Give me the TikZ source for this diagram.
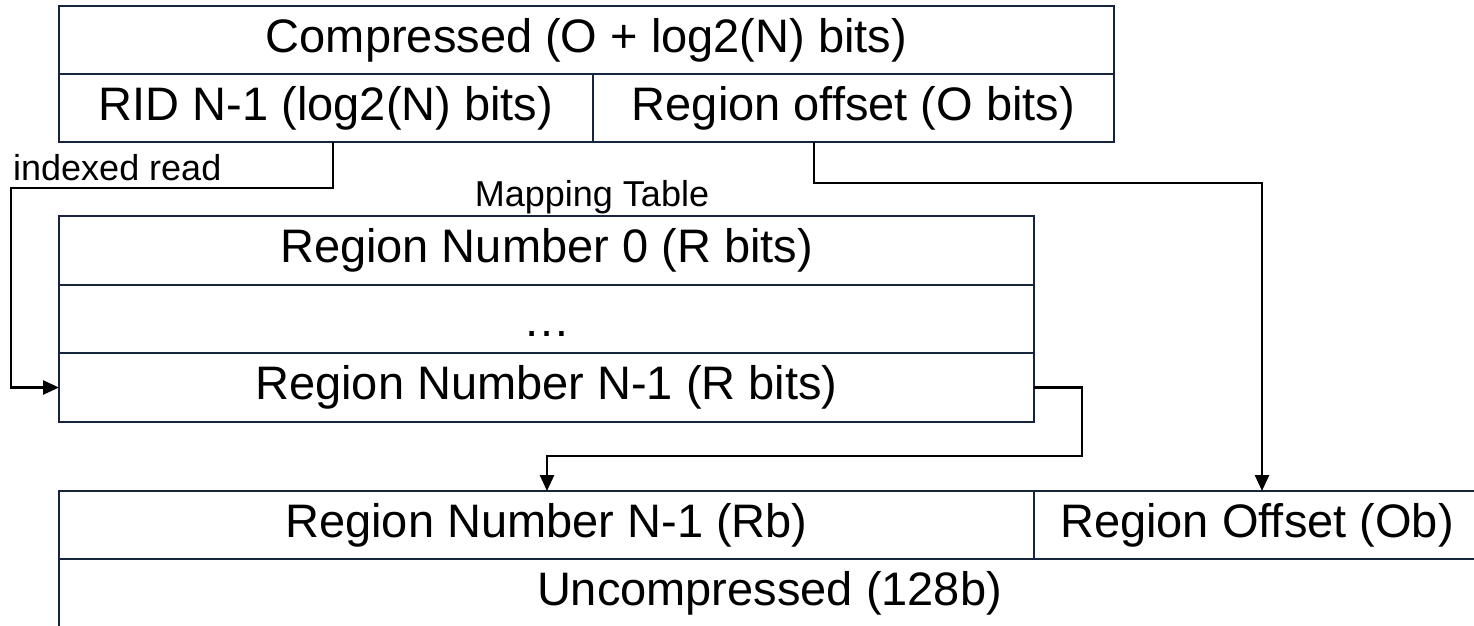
\documentclass[tikz,border=0pt]{standalone}
\usepackage{fontspec}
\setmainfont{Liberation Sans}
\usetikzlibrary{arrows.meta}
\definecolor{boxline}{RGB}{22,36,62}
\tikzset{
  cell/.style={draw=boxline, line width=2.6pt, inner sep=0pt, outer sep=0pt, fill=white,
    font=\fontsize{47}{52}\selectfont, text=black},
  small/.style={inner sep=0pt, font=\fontsize{36}{40}\selectfont, text=black},
  conn/.style={draw=black, line width=2.6pt},
  arr/.style={conn, -{Triangle[length=16pt,width=14pt]}}
}
\begin{document}
\begin{tikzpicture}[x=1pt,y=-1pt]
\useasboundingbox (0,0) rectangle (1474,625);
% compressed
\node[cell, minimum width=1055pt, minimum height=68pt] (comp) at (586.5,40) {Compressed (O + log2(N) bits)};
\node[cell, minimum width=534pt, minimum height=68pt] (rid) at (326,108) {RID N-1 (log2(N) bits)};
\node[cell, minimum width=521pt, minimum height=68pt] (roff) at (853.5,108) {Region offset (O bits)};
% mapping table
\node[small] (mtl) at (592,197) {Mapping Table};
\node[cell, minimum width=975pt, minimum height=69pt] (map0) at (546.5,250.5) {Region Number 0 (R bits)};
\node[cell, minimum width=975pt, minimum height=68pt] (mapd) at (546.5,319) {};
\node[inner sep=0pt, anchor=base, font=\fontsize{47}{52}\selectfont] (dots) at (546.5,336) {…};
\node[cell, minimum width=975pt, minimum height=69pt] (mapn) at (546.5,387.5) {Region Number N-1 (R bits)};
% uncompressed
\node[cell, minimum width=975pt, minimum height=68pt] (urn) at (546.5,525) {Region Number N-1 (Rb)};
\node[cell, minimum width=446pt, minimum height=68pt] (uoff) at (1257,525) {Region Offset (Ob)};
\node[cell, minimum width=1421pt, minimum height=68pt] (ucomp) at (769.5,593) {Uncompressed (128b)};
% label
\node[small, anchor=base west] (idx) at (13,180) {indexed read};
% connector coordinates
\coordinate (c1) at (333,188);
\coordinate (c2) at (11,188);
\coordinate (c3) at (814,183);
\coordinate (c4) at (1262,183);
\coordinate (c5) at (1082,456);
\coordinate (c6) at (547,456);
\draw[arr] (rid.south -| c1) -- (c1) -- (c2) |- (mapn.west);
\draw[arr] (roff.south -| c3) |- (c4) -- (uoff.north -| c4);
\draw[arr] (mapn.east) -| (c5) -- (c6) -- (urn.north -| c6);
\end{tikzpicture}
\end{document}
